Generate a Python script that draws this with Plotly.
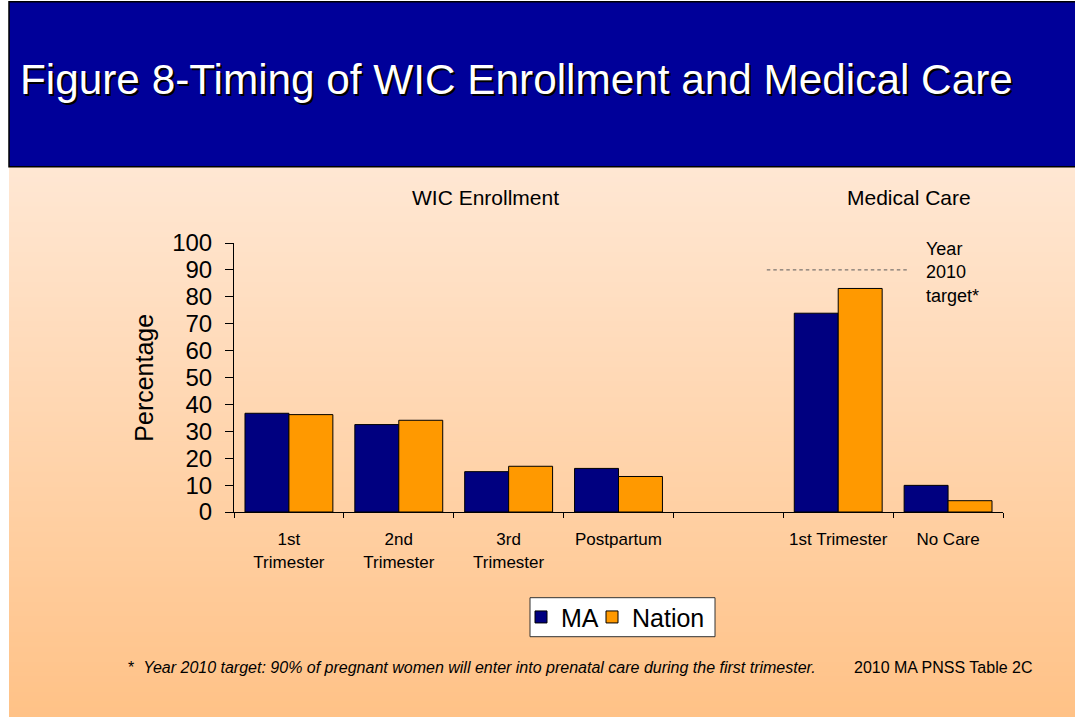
import plotly.graph_objects as go

# ---- data ----
categories = ["1st<br>Trimester", "2nd<br>Trimester", "3rd<br>Trimester", "Postpartum", " ", "1st Trimester", "No Care"]
ma_values = [36.7, 32.5, 15.0, 16.2, None, 73.9, 9.9]
nation_values = [36.2, 34.1, 17.0, 13.2, None, 83.1, 4.2]
target_value = 90
y_ticks = [0, 10, 20, 30, 40, 50, 60, 70, 80, 90, 100]

W, H = 1075, 717
L, R, T, B = 234, 72, 243.3, 204.7
PW, PH = W - L - R, H - T - B

def px(x):
    return (x - L) / PW

def py(y):
    return (H - B - y) / PH

FONT = "Liberation Sans, Arial, sans-serif"
NAVY = "#000080"
ORANGE = "#FF9900"

fig = go.Figure()
fig.add_trace(go.Bar(name="MA", x=categories, y=ma_values, legend="legend",
                     marker=dict(color=NAVY, line=dict(color="black", width=1))))
fig.add_trace(go.Bar(name="Nation", x=categories, y=nation_values, legend="legend2",
                     marker=dict(color=ORANGE, line=dict(color="black", width=1))))

shapes = []
# gradient background bands
top_c = (255, 231, 211)
bot_c = (255, 194, 135)
y_start, y_end = 167, 717
n = 110
step = (y_end - y_start) / n
for i in range(n):
    t = i / (n - 1)
    c = tuple(round(top_c[k] + (bot_c[k] - top_c[k]) * t) for k in range(3))
    y0 = y_start + i * step
    shapes.append(dict(type="rect", xref="paper", yref="paper", layer="below",
                       x0=px(9), x1=px(W + 5), y0=py(y0 + step + 0.6), y1=py(y0),
                       fillcolor="rgb(%d,%d,%d)" % c, line=dict(width=0)))
# banner
shapes.append(dict(type="rect", xref="paper", yref="paper", layer="below",
                   x0=px(9), x1=px(W + 5), y0=py(167), y1=py(2),
                   fillcolor="#000099", line=dict(color="black", width=1.5)))
# legend frame
shapes.append(dict(type="rect", xref="paper", yref="paper", layer="below",
                   x0=px(530), x1=px(715), y0=py(637), y1=py(598),
                   fillcolor="white", line=dict(color="#333333", width=1)))
# target line
shapes.append(dict(type="line", xref="x", yref="y", x0=4.35, x1=5.65, y0=target_value, y1=target_value,
                   line=dict(color="#5a5a5a", width=1, dash="3.5px,3px")))

annotations = [
    dict(text="Figure 8-Timing of WIC Enrollment and Medical Care", xref="paper", yref="paper",
         x=px(18), y=py(80), xanchor="left", yanchor="middle", showarrow=False,
         font=dict(family=FONT, size=42.3, color="white", shadow="2px 2px 0px black")),
    dict(text="WIC Enrollment", xref="paper", yref="paper", x=px(485), y=py(198),
         xanchor="center", yanchor="middle", showarrow=False, font=dict(family=FONT, size=21, color="black")),
    dict(text="Medical Care", xref="paper", yref="paper", x=px(909), y=py(198),
         xanchor="center", yanchor="middle", showarrow=False, font=dict(family=FONT, size=21, color="black")),
    dict(text="Year<br>2010<br>target*", xref="paper", yref="paper", x=px(924), y=py(273),
         xanchor="left", yanchor="middle", align="left", showarrow=False,
         font=dict(family=FONT, size=18, color="black")),
    dict(text="Percentage", xref="paper", yref="paper", x=px(144), y=py(378), textangle=-90,
         xanchor="center", yanchor="middle", showarrow=False, font=dict(family=FONT, size=25, color="black")),
    dict(text="*  <i>Year 2010 target: 90% of pregnant women will enter into prenatal care during the first trimester.</i>",
         xref="paper", yref="paper", x=px(126), y=py(668), xanchor="left", yanchor="middle", showarrow=False,
         font=dict(family=FONT, size=16, color="black")),
    dict(text="2010 MA PNSS Table 2C", xref="paper", yref="paper", x=px(852), y=py(668),
         xanchor="left", yanchor="middle", showarrow=False, font=dict(family=FONT, size=16, color="black")),
]

legend_style = dict(orientation="h", yanchor="middle", xanchor="left", y=py(617.5),
                    bgcolor="rgba(0,0,0,0)", borderwidth=0,
                    font=dict(family=FONT, size=25, color="black"), itemwidth=30)

fig.update_layout(
    width=W, height=H,
    margin=dict(l=L, r=R, t=T, b=B, pad=0),
    paper_bgcolor="white", plot_bgcolor="rgba(0,0,0,0)",
    barmode="group", bargap=0.2, bargroupgap=0,
    font=dict(family=FONT, color="black"),
    shapes=shapes, annotations=annotations,
    showlegend=True,
    legend=dict(x=px(521), **legend_style),
    legend2=dict(x=px(592), **legend_style),
)
fig.update_xaxes(type="category", categoryorder="array", categoryarray=categories,
                 range=[-0.5, 6.5], tickson="boundaries", ticks="outside", ticklen=5, tickcolor="black",
                 ticklabelstandoff=12,
                 showline=True, linecolor="black", linewidth=1, showgrid=False, zeroline=False,
                 tickfont=dict(family=FONT, size=17, color="black"))
fig.update_yaxes(range=[0, 100], tickvals=y_ticks, ticks="outside", ticklen=8, tickcolor="black",
                 ticklabelstandoff=8,
                 showline=True, linecolor="black", linewidth=1, showgrid=False, zeroline=False,
                 tickfont=dict(family=FONT, size=24, color="black"))

fig.write_html("out.html", config={"displayModeBar": False},
               post_script="document.body.style.margin='0';document.body.style.overflow='hidden';")
